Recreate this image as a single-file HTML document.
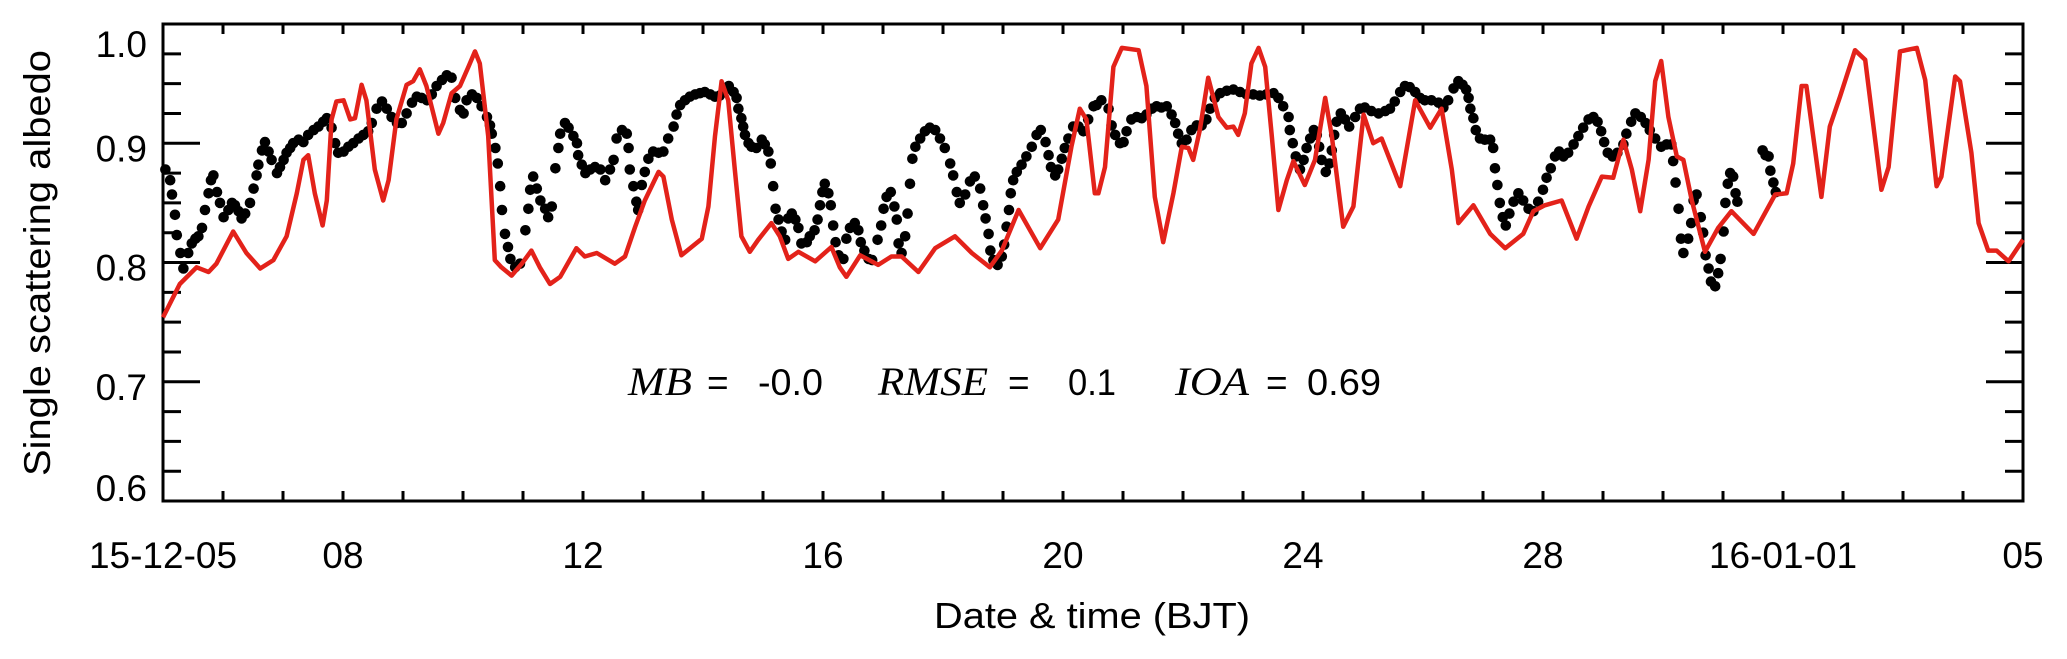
<!DOCTYPE html>
<html><head><meta charset="utf-8"><style>
html,body{margin:0;padding:0;background:#fff;}
svg{display:block;}
text{font-family:"Liberation Sans",Arial,sans-serif;fill:#000;}
.it{font-family:"Liberation Serif","Times New Roman",serif;font-style:italic;}
</style></head><body>
<svg id="chart" width="2067" height="659" viewBox="0 0 2067 659" xmlns="http://www.w3.org/2000/svg">
<g id="axes"></g>
<g id="marks"></g>
<text transform="translate(50,263) rotate(-90)" text-anchor="middle" font-size="37" textLength="426" lengthAdjust="spacingAndGlyphs">Single scattering albedo</text>
<text x="934" y="628" font-size="36" textLength="316" lengthAdjust="spacingAndGlyphs">Date &amp; time (BJT)</text>
<g>
<text class="it" x="628" y="395" font-size="40" textLength="64" lengthAdjust="spacingAndGlyphs">MB</text>
<text x="707" y="395" font-size="37">=</text>
<text x="758" y="395" font-size="37" textLength="65" lengthAdjust="spacingAndGlyphs">-0.0</text>
<text class="it" x="878" y="395" font-size="40" textLength="110" lengthAdjust="spacingAndGlyphs">RMSE</text>
<text x="1008" y="395" font-size="37">=</text>
<text x="1068" y="395" font-size="37" textLength="48" lengthAdjust="spacingAndGlyphs">0.1</text>
<text class="it" x="1175" y="395" font-size="40" textLength="74" lengthAdjust="spacingAndGlyphs">IOA</text>
<text x="1266" y="395" font-size="37">=</text>
<text x="1307" y="395" font-size="37" textLength="74" lengthAdjust="spacingAndGlyphs">0.69</text>
</g>
</svg>
<script>
// ---- data (days since 2015-12-05 00:00 BJT, single scattering albedo) ----
const modelDays = [0,0.06,0.28,0.56,0.76,0.89,1.17,1.39,1.62,1.84,2.06,2.23,2.34,2.42,2.53,2.66,2.73,2.81,2.89,3.01,3.12,3.20,3.31,3.39,3.53,3.67,3.76,3.89,4.06,4.17,4.28,4.39,4.59,4.67,4.81,4.95,5.09,5.20,5.28,5.42,5.53,5.64,5.81,5.98,6.14,6.28,6.45,6.62,6.89,7.03,7.23,7.53,7.70,7.87,8.03,8.26,8.34,8.48,8.64,8.81,8.98,9.09,9.20,9.31,9.42,9.53,9.64,9.78,9.92,10.14,10.28,10.42,10.59,10.87,11.14,11.28,11.39,11.62,11.92,12.14,12.31,12.59,12.87,13.20,13.48,13.78,13.98,14.26,14.62,14.92,15.14,15.28,15.39,15.53,15.59,15.70,15.84,15.98,16.26,16.39,16.53,16.67,16.84,16.98,17.09,17.17,17.28,17.42,17.59,17.73,17.84,17.92,18.03,18.14,18.26,18.37,18.48,18.59,18.73,18.84,19.03,19.20,19.37,19.48,19.67,19.84,20.01,20.17,20.31,20.62,20.87,21.12,21.31,21.48,21.59,21.84,22.12,22.37,22.67,22.84,23.03,23.31,23.56,23.76,23.98,24.17,24.34,24.48,24.62,24.76,24.87,24.97,25.09,25.23,25.34,25.48,25.70,25.92,26.14,26.51,26.87,27.06,27.17,27.31,27.39,27.64,27.78,27.95,28.20,28.37,28.64,28.76,28.95,29.23,29.37,29.56,29.64,29.87,29.95,30.14,30.26,30.42,30.56,30.76,31.0];
const modelValues = [0.754,0.760,0.782,0.796,0.792,0.799,0.826,0.808,0.795,0.802,0.822,0.858,0.886,0.890,0.858,0.831,0.852,0.920,0.935,0.936,0.920,0.921,0.949,0.936,0.878,0.852,0.869,0.920,0.949,0.952,0.962,0.948,0.908,0.917,0.942,0.948,0.964,0.977,0.967,0.906,0.802,0.796,0.789,0.799,0.810,0.796,0.782,0.788,0.812,0.805,0.808,0.799,0.805,0.830,0.852,0.876,0.872,0.836,0.806,0.813,0.820,0.847,0.906,0.952,0.936,0.878,0.822,0.809,0.819,0.833,0.822,0.803,0.809,0.801,0.813,0.796,0.788,0.806,0.798,0.805,0.805,0.792,0.812,0.822,0.808,0.796,0.810,0.844,0.812,0.836,0.897,0.929,0.920,0.858,0.858,0.880,0.964,0.980,0.978,0.948,0.855,0.817,0.858,0.897,0.896,0.886,0.911,0.955,0.922,0.913,0.914,0.907,0.925,0.967,0.980,0.964,0.906,0.844,0.869,0.885,0.865,0.886,0.938,0.906,0.830,0.847,0.924,0.900,0.904,0.864,0.936,0.913,0.929,0.878,0.833,0.848,0.824,0.812,0.824,0.843,0.848,0.852,0.820,0.847,0.872,0.871,0.903,0.878,0.843,0.886,0.952,0.969,0.922,0.889,0.886,0.852,0.809,0.829,0.843,0.824,0.857,0.858,0.883,0.948,0.948,0.855,0.914,0.939,0.978,0.970,0.861,0.880,0.977,0.980,0.953,0.864,0.872,0.956,0.952,0.892,0.833,0.810,0.810,0.801,0.819];
const obsDays = [0.04,0.12,0.15,0.20,0.23,0.29,0.34,0.42,0.48,0.54,0.59,0.65,0.70,0.76,0.80,0.84,0.90,0.95,1.01,1.09,1.15,1.20,1.26,1.31,1.37,1.45,1.51,1.56,1.59,1.65,1.70,1.76,1.81,1.90,1.95,2.01,2.06,2.12,2.17,2.26,2.34,2.42,2.51,2.59,2.67,2.73,2.81,2.87,2.92,3.01,3.09,3.17,3.26,3.34,3.42,3.48,3.56,3.65,3.73,3.81,3.90,3.98,4.06,4.15,4.23,4.31,4.40,4.48,4.56,4.65,4.73,4.81,4.87,4.95,5.01,5.06,5.15,5.23,5.31,5.40,5.45,5.48,5.54,5.58,5.62,5.65,5.70,5.75,5.79,5.87,5.95,6.04,6.09,6.12,6.17,6.23,6.29,6.37,6.42,6.48,6.54,6.59,6.62,6.70,6.76,6.84,6.90,6.92,6.98,7.04,7.12,7.20,7.29,7.37,7.45,7.51,7.56,7.65,7.73,7.76,7.78,7.84,7.89,7.92,7.98,8.03,8.09,8.17,8.26,8.34,8.42,8.51,8.56,8.62,8.70,8.78,8.87,8.95,9.03,9.12,9.20,9.28,9.37,9.43,9.51,9.56,9.59,9.64,9.67,9.70,9.76,9.81,9.89,9.98,10.03,10.09,10.13,10.17,10.21,10.26,10.31,10.37,10.42,10.48,10.54,10.59,10.64,10.73,10.78,10.86,10.91,10.95,10.99,11.03,11.09,11.13,11.17,11.21,11.26,11.34,11.39,11.45,11.53,11.59,11.63,11.69,11.76,11.82,11.91,11.97,12.01,12.06,12.13,12.19,12.23,12.26,12.31,12.37,12.41,12.45,12.49,12.54,12.62,12.70,12.78,12.87,12.95,13.03,13.12,13.17,13.23,13.28,13.37,13.45,13.53,13.62,13.67,13.71,13.76,13.79,13.84,13.91,13.98,14.02,14.06,14.10,14.13,14.17,14.23,14.31,14.39,14.48,14.56,14.63,14.71,14.76,14.80,14.87,14.92,14.98,15.03,15.09,15.17,15.26,15.34,15.42,15.51,15.56,15.64,15.76,15.81,15.87,15.95,16.01,16.06,16.14,16.23,16.31,16.39,16.48,16.56,16.64,16.73,16.81,16.87,16.92,16.98,17.06,17.14,17.23,17.31,17.39,17.45,17.53,17.62,17.73,17.84,17.95,18.06,18.17,18.28,18.39,18.51,18.59,18.67,18.76,18.78,18.83,18.88,18.95,19.01,19.06,19.12,19.18,19.23,19.27,19.31,19.38,19.44,19.48,19.52,19.56,19.63,19.70,19.77,19.87,19.95,20.03,20.14,20.26,20.37,20.45,20.53,20.62,20.70,20.78,20.87,20.95,21.03,21.14,21.26,21.34,21.42,21.51,21.59,21.66,21.72,21.76,21.79,21.84,21.88,21.95,22.03,22.12,22.17,22.20,22.24,22.28,22.33,22.38,22.44,22.51,22.59,22.67,22.76,22.84,22.92,23.00,23.06,23.13,23.20,23.27,23.34,23.42,23.51,23.59,23.67,23.76,23.84,23.91,23.97,24.02,24.08,24.16,24.24,24.34,24.39,24.47,24.54,24.63,24.71,24.78,24.87,24.97,25.06,25.14,25.17,25.21,25.26,25.30,25.34,25.42,25.47,25.51,25.56,25.63,25.67,25.71,25.76,25.80,25.87,25.92,25.96,26.01,26.04,26.08,26.12,26.17,26.21,26.24,26.66,26.71,26.76,26.79,26.84,26.88];
const obsValues = [0.878,0.869,0.857,0.840,0.823,0.808,0.795,0.808,0.816,0.820,0.822,0.829,0.844,0.858,0.869,0.873,0.859,0.850,0.838,0.844,0.850,0.848,0.843,0.837,0.841,0.850,0.862,0.873,0.882,0.894,0.901,0.893,0.886,0.875,0.880,0.886,0.892,0.896,0.900,0.903,0.901,0.907,0.911,0.914,0.918,0.921,0.913,0.900,0.892,0.893,0.897,0.900,0.904,0.907,0.910,0.917,0.929,0.935,0.929,0.922,0.917,0.917,0.925,0.934,0.939,0.938,0.936,0.941,0.948,0.953,0.957,0.955,0.938,0.928,0.925,0.936,0.941,0.938,0.931,0.922,0.915,0.908,0.896,0.883,0.864,0.844,0.824,0.813,0.803,0.796,0.799,0.827,0.845,0.861,0.872,0.862,0.852,0.845,0.838,0.847,0.879,0.896,0.908,0.917,0.913,0.906,0.900,0.890,0.882,0.875,0.878,0.880,0.878,0.869,0.878,0.886,0.904,0.911,0.908,0.896,0.878,0.864,0.851,0.844,0.865,0.876,0.887,0.893,0.892,0.893,0.904,0.914,0.924,0.932,0.936,0.939,0.941,0.942,0.943,0.941,0.939,0.940,0.945,0.948,0.943,0.938,0.929,0.921,0.914,0.907,0.900,0.897,0.896,0.903,0.899,0.893,0.883,0.864,0.845,0.836,0.826,0.819,0.837,0.841,0.836,0.829,0.816,0.817,0.822,0.827,0.836,0.848,0.859,0.866,0.858,0.848,0.831,0.817,0.806,0.803,0.820,0.829,0.833,0.827,0.817,0.810,0.803,0.802,0.819,0.831,0.845,0.855,0.859,0.847,0.836,0.816,0.808,0.822,0.841,0.866,0.887,0.897,0.904,0.910,0.913,0.911,0.904,0.896,0.883,0.873,0.859,0.850,0.857,0.868,0.872,0.862,0.848,0.837,0.824,0.810,0.802,0.798,0.805,0.815,0.830,0.844,0.858,0.869,0.876,0.882,0.889,0.897,0.907,0.911,0.901,0.890,0.880,0.873,0.878,0.887,0.896,0.904,0.914,0.914,0.910,0.920,0.931,0.932,0.936,0.929,0.915,0.907,0.900,0.901,0.910,0.920,0.922,0.921,0.924,0.929,0.931,0.930,0.931,0.924,0.917,0.908,0.900,0.903,0.911,0.915,0.915,0.920,0.929,0.938,0.942,0.944,0.945,0.943,0.941,0.941,0.940,0.941,0.942,0.938,0.931,0.922,0.911,0.900,0.889,0.878,0.886,0.896,0.904,0.911,0.907,0.897,0.886,0.876,0.883,0.894,0.907,0.918,0.925,0.920,0.914,0.922,0.929,0.930,0.927,0.925,0.927,0.929,0.935,0.943,0.948,0.947,0.943,0.938,0.936,0.936,0.934,0.930,0.936,0.946,0.952,0.949,0.945,0.938,0.929,0.921,0.911,0.904,0.903,0.903,0.896,0.879,0.865,0.850,0.838,0.831,0.841,0.851,0.858,0.852,0.845,0.843,0.851,0.861,0.871,0.879,0.889,0.893,0.889,0.892,0.899,0.906,0.913,0.920,0.922,0.918,0.910,0.901,0.892,0.889,0.892,0.899,0.908,0.918,0.925,0.922,0.917,0.911,0.904,0.897,0.899,0.899,0.885,0.867,0.845,0.820,0.808,0.820,0.833,0.852,0.857,0.838,0.825,0.806,0.795,0.784,0.780,0.791,0.803,0.826,0.850,0.866,0.875,0.872,0.858,0.851,0.894,0.890,0.889,0.877,0.867,0.859];
const xTickLabels = ["15-12-05","08","12","16","20","24","28","16-01-01","05"];
const xTickLabelDays = [0,3,7,11,15,19,23,27,31];
const yTickValues = [0.6,0.7,0.8,0.9,1.0];
const yTickLabels = ["0.6","0.7","0.8","0.9","1.0"];

// ---- layout ----
const L=163,R=2023,T=24,B=501, X0=0,X1=31, Y0=0.6,Y1=1.0;
const NS="http://www.w3.org/2000/svg";
function xs(d){return L+(d-X0)/(X1-X0)*(R-L);}
function ys(v){return B-(v-Y0)/(Y1-Y0)*(B-T);}
function mk(tag,attrs,parent){const e=document.createElementNS(NS,tag);for(const k in attrs)e.setAttribute(k,attrs[k]);parent.appendChild(e);return e;}
const axes=document.getElementById('axes'), marks=document.getElementById('marks');

// x ticks each day
for(let d=X0+1; d<X1; d++){
  const t1=mk('line',{x1:xs(d),x2:xs(d),y1:B,y2:B-10,stroke:'#000','stroke-width':3},axes);
  
  
  const t2=mk('line',{x1:xs(d),x2:xs(d),y1:T,y2:T+10,stroke:'#000','stroke-width':3},axes);
  
  
}
// y ticks: major at 0.1, minor at 0.025
for(let i=1;i<16;i++){
  const v=Y0+i*0.025, major=(i%4===0), len=major?37:18;
  const a=mk('line',{x1:L,x2:L+len,y1:ys(v),y2:ys(v),stroke:'#000','stroke-width':3},axes);
  
  
  const b=mk('line',{x1:R,x2:R-len,y1:ys(v),y2:ys(v),stroke:'#000','stroke-width':3},axes);
  
  
}
// y labels (IDL nudges end labels inside the axis)
yTickValues.forEach((v,i)=>{
  let cy=ys(v)+5;
  if(i===0) cy=ys(v)-13;
  if(i===yTickValues.length-1) cy=ys(v)+20;
  const t=mk('text',{x:147,y:cy+13,'text-anchor':'end','font-size':37},axes);
  t.textContent=yTickLabels[i];
  
  
});
// x labels
xTickLabels.forEach((s,i)=>{
  const t=mk('text',{x:xs(xTickLabelDays[i]),y:568,'text-anchor':'middle','font-size':37},axes);
  t.textContent=s;
  
  
});

// observation dots
obsDays.forEach((d,i)=>{
  const c=mk('circle',{cx:xs(d).toFixed(1),cy:ys(obsValues[i]).toFixed(1),r:5.3,fill:'#000'},marks);
  
  
});
// model line
const pts=modelDays.map((d,i)=>xs(d).toFixed(1)+','+ys(modelValues[i]).toFixed(1)).join(' ');
const pl=mk('polyline',{points:pts,fill:'none',stroke:'#e3221a','stroke-width':4.5,'stroke-linejoin':'round'},marks);



// frame
const fr=mk('rect',{x:L,y:T,width:R-L,height:B-T,fill:'none',stroke:'#000','stroke-width':3},axes);


</script>
</body></html>
